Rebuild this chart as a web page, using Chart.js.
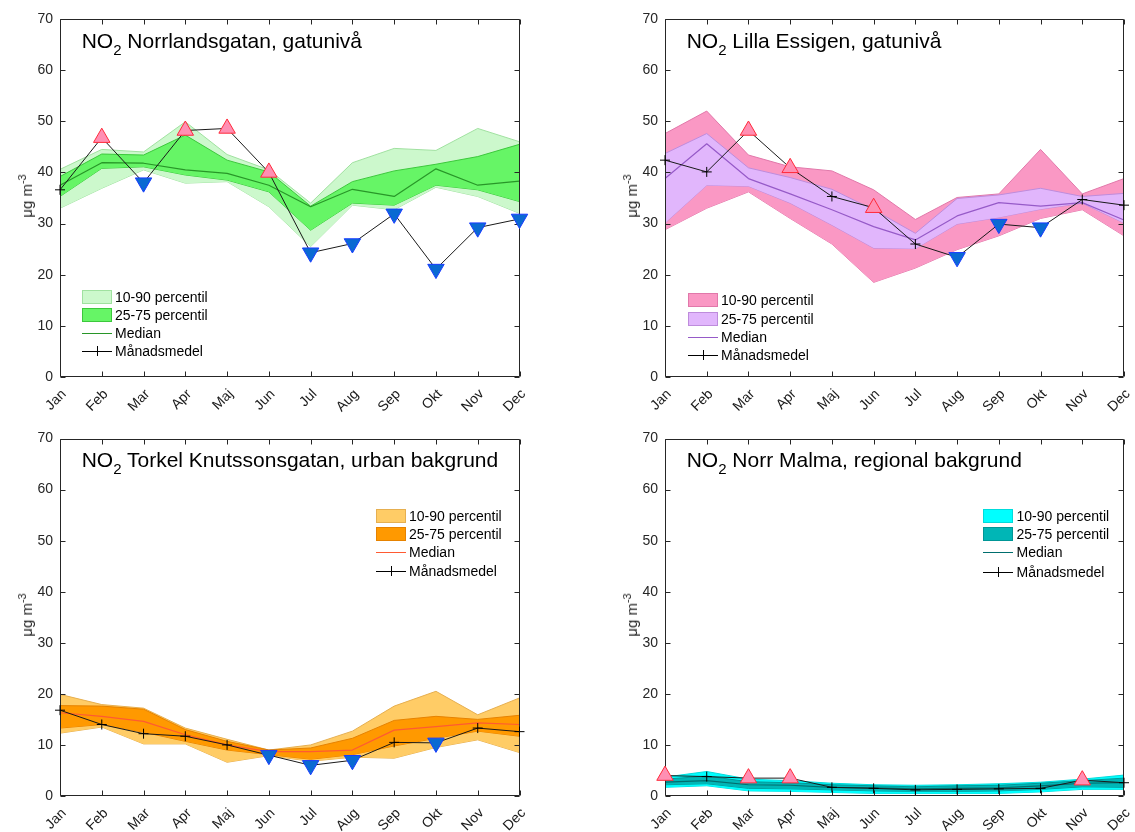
<!DOCTYPE html>
<html><head><meta charset="utf-8">
<script src="https://cdn.jsdelivr.net/npm/chart.js@4/dist/chart.umd.min.js"></script>
<style>
html,body{margin:0;padding:0;background:#fff;width:1135px;height:832px;overflow:hidden;font-family:"Liberation Sans",Arial,Helvetica,sans-serif;}
canvas{position:absolute;}
.t{position:absolute;font-size:21px;line-height:21px;white-space:nowrap;color:#000;}
.t sub{font-size:15px;position:relative;top:7px;vertical-align:baseline;line-height:0;}
.yl{position:absolute;font-size:15px;line-height:16px;white-space:nowrap;color:#262626;transform:translate(-50%,-50%) rotate(-90deg);}
.yl sup{font-size:11px;line-height:0;}
.lg{position:absolute;font-size:14px;line-height:16px;white-space:nowrap;color:#000;}
.sw{position:absolute;box-sizing:border-box;border:1px solid;}
.ln{position:absolute;height:0;border-top:1px solid;}
.vt{position:absolute;width:0;border-left:1px solid #000;}
</style></head><body>
<script>
// ---------- data ----------
const months = ['Jan','Feb','Mar','Apr','Maj','Jun','Jul','Aug','Sep','Okt','Nov','Dec'];
const yMin = 0, yMax = 70, yStep = 10;

// Norrlandsgatan
const nlP90  = [40.6, 44.5, 44.0, 49.9, 43.5, 40.5, 34.0, 41.9, 44.7, 44.3, 48.6, 46.0];
const nlP75  = [39.2, 43.6, 43.4, 47.3, 42.4, 40.1, 33.4, 38.2, 40.3, 41.6, 43.1, 45.5];
const nlMed  = [37.5, 41.9, 41.8, 40.5, 39.8, 37.5, 33.3, 36.7, 35.3, 40.7, 37.5, 38.3];
const nlP25  = [35.3, 40.8, 41.1, 39.5, 38.5, 36.2, 28.7, 34.0, 33.6, 37.5, 36.6, 34.3];
const nlP10  = [33.0, 36.9, 40.5, 37.9, 38.2, 33.3, 25.5, 33.6, 32.7, 37.1, 35.3, 32.0];
const nlMean = [36.6, 46.8, 38.0, 48.2, 48.6, 40.0, 24.3, 26.1, 31.9, 21.1, 29.2, 30.9];
const nlFlag = [0, 1, -1, 1, 1, 1, -1, -1, -1, -1, -1, -1];

// Lilla Essigen
const leP90  = [47.6, 52.0, 43.4, 41.1, 40.3, 36.6, 30.8, 35.1, 35.8, 44.5, 35.8, 38.8];
const leP75  = [43.7, 47.6, 40.9, 39.0, 36.7, 32.7, 28.1, 34.9, 35.6, 36.9, 35.3, 35.9];
const leMed  = [38.8, 45.6, 38.8, 35.8, 32.7, 29.4, 26.8, 31.5, 34.1, 33.4, 34.1, 30.7];
const leP25  = [30.1, 37.5, 37.3, 34.0, 29.7, 25.2, 25.1, 29.9, 31.2, 32.8, 34.0, 30.1];
const leP10  = [28.8, 33.0, 36.2, 31.0, 26.0, 18.5, 21.3, 24.9, 27.6, 31.0, 32.7, 27.6];
const leMean = [42.4, 40.1, 48.2, 40.9, 35.3, 33.1, 26.0, 23.4, 29.9, 29.2, 34.7, 33.6];
const leFlag = [0, 0, 1, 1, 0, 1, 0, -1, -1, -1, 0, 0];

// Torkel Knutssonsgatan
const tkP90  = [19.9, 17.9, 17.2, 13.3, 11.1, 9.0, 10.0, 12.7, 17.6, 20.5, 15.9, 19.2];
const tkP75  = [17.7, 17.6, 17.0, 13.0, 10.7, 9.0, 9.4, 11.3, 14.8, 15.6, 15.0, 15.8];
const tkMed  = [16.3, 15.6, 14.6, 12.0, 10.0, 8.7, 8.7, 9.0, 12.9, 13.6, 14.3, 14.0];
const tkP25  = [13.3, 14.0, 12.5, 10.7, 9.0, 8.1, 7.2, 8.1, 9.8, 11.3, 12.7, 11.7];
const tkP10  = [12.3, 13.5, 10.2, 10.2, 6.6, 7.9, 6.8, 7.6, 7.4, 9.5, 11.0, 8.5];
const tkMean = [16.8, 14.0, 12.2, 11.7, 10.0, 8.0, 6.0, 7.0, 10.5, 10.4, 13.3, 12.6];
const tkFlag = [0, 0, 0, 0, 0, -1, -1, -1, 0, -1, 0, 0];

// Norr Malma
const nmP90  = [3.7, 4.8, 3.3, 3.0, 2.5, 2.2, 2.1, 2.2, 2.4, 2.7, 3.3, 4.1];
const nmP75  = [3.3, 3.9, 2.8, 2.6, 2.2, 2.0, 1.8, 2.0, 2.1, 2.5, 3.0, 3.5];
const nmMed  = [2.7, 3.0, 2.2, 2.1, 1.7, 1.6, 1.4, 1.5, 1.6, 2.0, 2.5, 2.6];
const nmP25  = [2.2, 2.4, 1.5, 1.4, 1.2, 1.0, 0.9, 0.9, 1.0, 1.3, 1.8, 1.7];
const nmP10  = [1.7, 2.0, 1.0, 0.9, 0.7, 0.5, 0.5, 0.5, 0.5, 0.8, 1.3, 1.3];
const nmMean = [4.0, 3.8, 3.5, 3.5, 1.7, 1.5, 1.2, 1.3, 1.4, 1.5, 3.1, 2.6];
const nmFlag = [1, 0, 1, 1, 0, 0, 0, 0, 0, 0, 1, 0];

const legendLabels = ['10-90 percentil', '25-75 percentil', 'Median', 'Månadsmedel'];

// ---------- drawing ----------
const FONT = '"Liberation Sans", Arial, Helvetica, sans-serif';
const AXC = '#262626';

const boxPlugin = {
  id: 'mbox',
  afterDatasetDraw(chart, args) {
    if (args.index !== 1) return;
    const ctx = chart.ctx, a = chart.chartArea;
    const xs = chart.scales.x, ys = chart.scales.y;
    ctx.save();
    ctx.strokeStyle = AXC; ctx.lineWidth = 1;
    const L = Math.round(a.left) + 0.5, R = Math.round(a.right) - 0.5;
    const T = Math.round(a.top) + 0.5, B = Math.round(a.bottom) - 0.5;
    ctx.beginPath();
    ctx.rect(L, T, R - L, B - T);
    const tl = 5;
    ys.ticks.forEach(t => {
      const py = Math.round(ys.getPixelForValue(t.value)) + 0.5;
      ctx.moveTo(L, py); ctx.lineTo(L + tl, py);
      ctx.moveTo(R, py); ctx.lineTo(R - tl, py);
    });
    months.forEach((m, i) => {
      const px = Math.round(xs.getPixelForValue(i)) + 0.5;
      ctx.moveTo(px, B); ctx.lineTo(px, B - tl);
      ctx.moveTo(px, T); ctx.lineTo(px, T + tl);
    });
    ctx.stroke();
    ctx.restore();
  }
};

function el(cls, style, html) {
  const d = document.createElement('div');
  d.className = cls;
  Object.assign(d.style, style);
  if (html !== undefined) d.innerHTML = html;
  document.body.appendChild(d);
  return d;
}

function panel(p) {
  const cv = document.createElement('canvas');
  cv.width = p.w; cv.height = p.h;
  cv.style.left = p.left + 'px'; cv.style.top = p.top + 'px';
  cv.style.width = p.w + 'px'; cv.style.height = p.h + 'px';
  document.body.appendChild(cv);
  const a = p.area;
  const styles = p.flag.map(f => f === 0 ? 'cross' : 'triangle');
  const radii = p.flag.map(f => f === 0 ? 5 : 9.5);
  const rots = p.flag.map(f => f < 0 ? 180 : 0);
  const bgs = p.flag.map(f => f > 0 ? '#ff8fb3' : (f < 0 ? '#0a6ad2' : '#000'));
  const bds = p.flag.map(f => f > 0 ? '#ff2a3a' : (f < 0 ? '#1a3cff' : '#000'));
  const line = (data, color, extra) => Object.assign({
    data, borderColor: color, borderWidth: 1, pointRadius: 0, tension: 0, fill: false
  }, extra || {});
  new Chart(cv, {
    type: 'line',
    data: {
      labels: months,
      datasets: [
        line(p.mean, '#1a1a1a', {
          pointStyle: styles, pointRadius: radii, pointRotation: rots,
          pointBackgroundColor: bgs, pointBorderColor: bds, pointBorderWidth: 1, clip: false
        }),
        line(p.med, p.c.med, {borderWidth: 1.2}),
        line(p.p75, p.c.e75, {fill: '+1', backgroundColor: p.c.f75}),
        line(p.p25, p.c.e75),
        line(p.p90, p.c.e90, {fill: '+1', backgroundColor: p.c.f90}),
        line(p.p10, p.c.e90)
      ]
    },
    options: {
      responsive: false, animation: false,
      layout: {padding: {left: 0, top: a.t - p.top, right: (p.left + p.w) - a.r, bottom: 0}},
      plugins: {legend: {display: false}, tooltip: {enabled: false}},
      elements: {line: {borderJoinStyle: 'round'}},
      scales: {
        x: {
          type: 'category', offset: false,
          grid: {display: false, drawTicks: false}, border: {display: false},
          ticks: {autoSkip: false, maxRotation: 45, minRotation: 45, padding: 9, labelOffset: 4,
                  color: '#1a1a1a', font: {family: FONT, size: 14}},
          afterFit(s) { s.height = (p.top + p.h) - a.b; s.paddingLeft = 0; s.paddingRight = 0; }
        },
        y: {
          min: yMin, max: yMax,
          grid: {display: false, drawTicks: false}, border: {display: false},
          ticks: {stepSize: yStep, padding: 7, color: AXC, font: {family: FONT, size: 14}},
          afterFit(s) { s.width = a.l - p.left; s.paddingTop = 0; s.paddingBottom = 0; }
        }
      }
    },
    plugins: [boxPlugin]
  });

  // title
  el('t', {left: (a.l + 21.7) + 'px', top: (a.t + 10.9) + 'px'}, 'NO<sub>2</sub> ' + p.title);
  // y label
  el('yl', {left: p.ylX + 'px', top: ((a.t + a.b) / 2 - 2) + 'px'}, 'μg m<sup>-3</sup>');
  // legend
  const g = p.lg;
  const sw = [p.c.f90, p.c.f75], se = [p.c.e90, p.c.e75];
  for (let i = 0; i < 2; i++) {
    el('sw', {left: g.x + 'px', top: (g.rows[i] - 7) + 'px', width: '30px', height: '14px',
              background: sw[i], borderColor: se[i]});
  }
  el('ln', {left: g.x + 'px', top: g.rows[2] + 'px', width: '30px', borderTopColor: p.c.med});
  el('ln', {left: g.x + 'px', top: g.rows[3] + 'px', width: '30px', borderTopColor: '#000'});
  el('vt', {left: (g.x + 15) + 'px', top: (g.rows[3] - 5) + 'px', height: '10px'});
  legendLabels.forEach((t, i) => {
    el('lg', {left: g.tx + 'px', top: (g.rows[i] - 8) + 'px'}, t);
  });
}

panel({
  left: 0, top: 0, w: 567, h: 418, area: {l: 60, r: 519.5, t: 19, b: 377},
  p10: nlP10, p25: nlP25, med: nlMed, p75: nlP75, p90: nlP90, mean: nlMean, flag: nlFlag,
  c: {f90: 'rgb(204,248,204)', e90: 'rgb(160,225,160)', f75: 'rgb(102,245,102)', e75: 'rgb(60,200,60)', med: 'rgb(40,150,40)'},
  title: 'Norrlandsgatan, gatunivå', ylX: 27,
  lg: {x: 82, tx: 115, rows: [296.5, 314.5, 332.7, 351]}
});
panel({
  left: 567, top: 0, w: 568, h: 418, area: {l: 665, r: 1124, t: 19, b: 377},
  p10: leP10, p25: leP25, med: leMed, p75: leP75, p90: leP90, mean: leMean, flag: leFlag,
  c: {f90: 'rgb(250,152,196)', e90: 'rgb(225,120,170)', f75: 'rgb(225,182,252)', e75: 'rgb(190,140,220)', med: 'rgb(150,90,200)'},
  title: 'Lilla Essigen, gatunivå', ylX: 632,
  lg: {x: 688, tx: 721, rows: [300, 318.5, 337, 355]}
});
panel({
  left: 0, top: 419, w: 567, h: 413, area: {l: 60, r: 519.5, t: 438.5, b: 796},
  p10: tkP10, p25: tkP25, med: tkMed, p75: tkP75, p90: tkP90, mean: tkMean, flag: tkFlag,
  c: {f90: 'rgb(255,204,102)', e90: 'rgb(230,175,80)', f75: 'rgb(255,153,0)', e75: 'rgb(230,130,0)', med: 'rgb(255,90,50)'},
  title: 'Torkel Knutssonsgatan, urban bakgrund', ylX: 27,
  lg: {x: 376, tx: 409, rows: [515.5, 533.7, 552.3, 571]}
});
panel({
  left: 567, top: 419, w: 568, h: 413, area: {l: 665, r: 1124, t: 438.5, b: 796},
  p10: nmP10, p25: nmP25, med: nmMed, p75: nmP75, p90: nmP90, mean: nmMean, flag: nmFlag,
  c: {f90: 'rgb(0,255,255)', e90: 'rgb(0,220,220)', f75: 'rgb(0,182,182)', e75: 'rgb(0,150,150)', med: 'rgb(0,110,110)'},
  title: 'Norr Malma, regional bakgrund', ylX: 632,
  lg: {x: 983, tx: 1016.5, rows: [516, 534, 552.3, 571.5]}
});
</script>
</body></html>
